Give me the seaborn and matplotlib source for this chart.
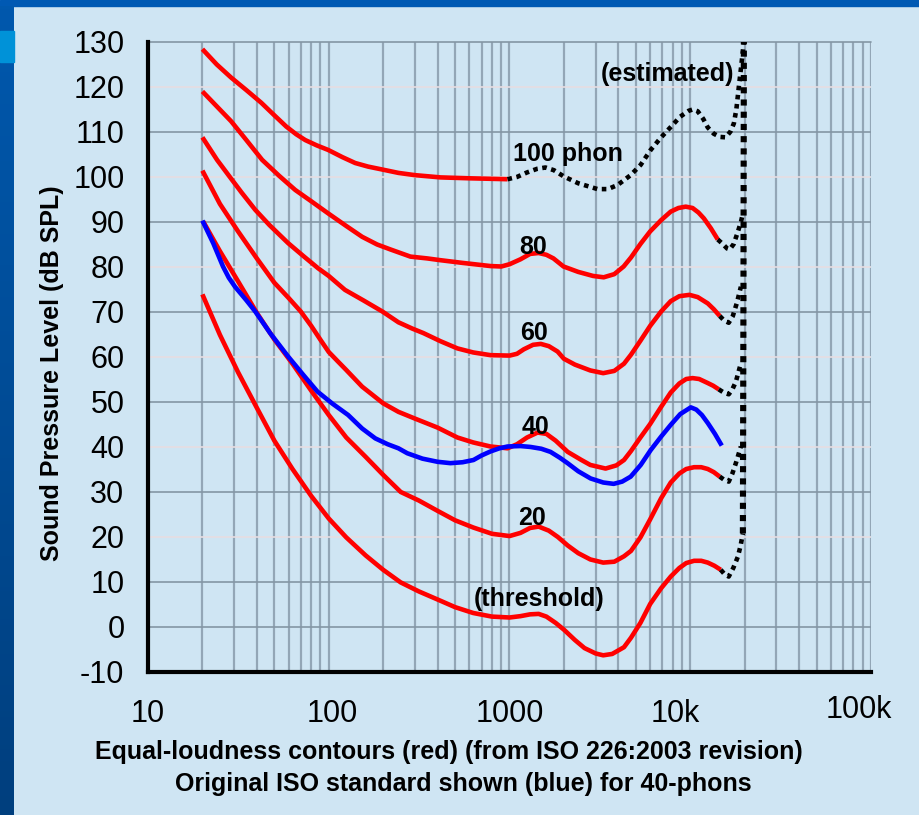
import numpy as np
import pandas as pd
import matplotlib
matplotlib.use("Agg")
import matplotlib.pyplot as plt
import matplotlib.transforms as mtransforms
from matplotlib.patches import Rectangle
from matplotlib.ticker import FixedLocator, LogLocator, NullFormatter
import seaborn as sns

# ---- data (Hz, dB SPL) ----
thr_f = [20, 25, 31.5, 40, 50, 63, 80, 100, 125, 160, 200, 250, 315, 400, 500, 630,
         800, 1000, 1150, 1300, 1450, 1600, 1800, 2000, 2300, 2600, 3000, 3300, 3700,
         4300, 4700, 5300, 6000, 6900, 7800, 8700, 9500, 10500, 11500, 12500, 13600, 14750]
thr_db = [73.8, 64.8, 56.5, 48.6, 41.3, 35.0, 29.0, 24.0, 19.8, 15.8, 12.6, 9.8, 7.8, 6.0, 4.3, 3.0,
          2.2, 2.0, 2.3, 2.7, 2.8, 2.2, 0.8, -0.7, -3.0, -4.8, -6.0, -6.4, -6.1,
          -4.6, -2.5, 0.8, 5.0, 8.5, 11.1, 13.0, 14.1, 14.6, 14.6, 14.2, 13.5, 12.6]

p20_f = [20.2, 25, 31.5, 40, 50, 63, 80, 100, 125, 160, 200, 250, 315, 400, 500, 630,
         800, 1000, 1150, 1300, 1450, 1650, 1850, 2100, 2400, 2800, 3300, 3800, 4300,
         4700, 5300, 6000, 6900, 7800, 8700, 9500, 10500, 11500, 12500, 13500, 14560]
p20_db = [90.0, 83.4, 76.7, 69.7, 63.8, 58.4, 52.4, 47.0, 42.0, 37.7, 33.7, 29.9, 28.0, 25.7, 23.6, 22.0,
          20.6, 20.1, 20.8, 21.9, 22.2, 21.3, 19.9, 18.0, 16.3, 14.9, 14.2, 14.4, 15.6,
          16.8, 19.8, 23.8, 28.5, 32.0, 34.0, 35.0, 35.4, 35.4, 35.0, 34.3, 33.3]

p40_f = [20, 25, 31.5, 40, 50, 60, 70, 80, 90, 100, 113, 125, 153, 200, 243, 300, 400,
         515, 630, 785, 975, 1100, 1250, 1430, 1600, 1800, 2100, 2500, 2800, 3400, 3900,
         4300, 4700, 5300, 6000, 6900, 7800, 8700, 9500, 10300, 11200, 12500, 13400, 14380]
p40_db = [101.3, 93.9, 87.8, 81.8, 76.4, 73.0, 70.0, 66.8, 63.7, 61.0, 58.8, 57.0, 53.3, 49.6, 47.7, 46.2, 44.2,
          42.0, 40.9, 40.0, 39.6, 40.5, 42.0, 43.1, 42.8, 41.3, 38.8, 37.0, 35.9, 35.1, 35.8,
          37.0, 39.0, 42.0, 45.0, 48.8, 52.0, 54.0, 55.0, 55.2, 55.0, 54.1, 53.5, 52.7]

p60_f = [20, 24.1, 28, 33, 39.2, 47, 59.6, 72, 87.4, 100, 123, 155, 198, 243, 290, 334,
         415, 515, 630, 785, 1000, 1100, 1200, 1350, 1490, 1650, 1845, 2000, 2300, 2800,
         3300, 3800, 4300, 4700, 5300, 6000, 6900, 7800, 8700, 9900, 11000, 12500, 13500, 14560]
p60_db = [108.7, 103.7, 100.2, 96.4, 92.6, 89.2, 85.2, 82.4, 79.6, 77.9, 74.8, 72.5, 70.0, 67.6, 66.2, 65.2,
          63.4, 61.8, 60.9, 60.3, 60.2, 60.6, 61.6, 62.6, 62.8, 62.3, 61.1, 59.5, 58.2, 56.9,
          56.3, 56.8, 58.4, 60.4, 63.5, 66.8, 70.0, 72.3, 73.4, 73.7, 73.2, 71.8, 70.5, 69.0]

p80_f = [20, 24, 28.8, 35, 42.8, 53, 65.3, 80, 99.3, 125, 153, 185, 219, 283, 350, 415,
         550, 785, 900, 1000, 1150, 1300, 1450, 1600, 1750, 1990, 2400, 2900, 3320, 3800,
         4280, 4700, 5300, 6000, 6900, 7800, 8600, 9440, 10300, 11100, 11890, 13000, 14200]
p80_db = [118.9, 115.6, 112.3, 108.1, 103.7, 100.2, 97.0, 94.5, 91.8, 89.0, 86.6, 84.9, 83.8, 82.2, 81.8, 81.4,
          80.8, 80.1, 80.0, 80.5, 81.6, 82.8, 83.0, 82.6, 81.8, 80.0, 78.8, 77.9, 77.6, 78.3,
          80.0, 82.0, 85.0, 87.8, 90.3, 92.2, 93.0, 93.3, 93.0, 92.0, 90.7, 88.5, 86.0]

p100_f = [20, 24, 28.8, 35, 42.3, 50, 58.2, 66, 74.1, 86, 99.3, 119, 140, 165, 195, 243,
          300, 415, 600, 975]
p100_db = [128.3, 124.9, 122.0, 119.2, 116.4, 113.6, 111.1, 109.4, 108.1, 106.9, 105.9, 104.3, 103.0, 102.2, 101.6, 100.8,
           100.3, 99.8, 99.6, 99.4]

# original ISO 40-phon contour (blue)
iso40_f = [20, 23, 26, 28, 30.3, 35, 39.2, 47.4, 59.6, 72, 86.6, 105, 128, 153, 181, 212,
           243, 272, 330, 400, 471, 550, 632, 700, 785, 880, 975, 1150, 1307, 1500, 1687,
           1900, 2095, 2400, 2810, 3300, 3770, 4200, 4681, 5320, 6040, 6900, 7795, 8800,
           10070, 10800, 11600, 12510, 13700, 14940]
iso40_db = [90.2, 85.1, 80.0, 77.5, 75.5, 72.5, 70.0, 65.2, 60.0, 56.0, 52.2, 49.5, 47.0, 44.0, 41.8, 40.5,
            39.6, 38.5, 37.3, 36.6, 36.3, 36.5, 37.0, 38.0, 38.9, 39.6, 40.0, 40.1, 39.9, 39.5, 38.8,
            37.5, 36.3, 34.5, 32.9, 32.0, 31.7, 32.2, 33.3, 35.9, 39.2, 42.2, 44.8, 47.2,
            48.7, 48.2, 47.0, 45.2, 42.8, 40.2]

# estimated (dotted) extensions
est100_f = [975, 1100, 1250, 1420, 1580, 1760, 2000, 2400, 3070, 3500, 3960, 4680, 5320,
            6040, 6900, 7800, 8800, 9800, 10330, 11000, 11800, 12500, 13500, 14600, 15700,
            16700, 17430, 18000, 18580, 19200, 19800]
est100_db = [99.4, 99.9, 100.9, 101.7, 102.0, 101.4, 100.0, 98.5, 97.2, 97.2, 98.1, 100.3, 102.6,
             105.9, 108.7, 111.0, 113.3, 114.6, 114.9, 114.5, 112.8, 110.9, 109.5, 108.8, 108.7,
             110.0, 111.8, 115.0, 120.0, 125.0, 130.0]
est80_f = [14200, 15130, 16000, 16540, 17400, 18340, 19100, 19550]
est80_db = [86.0, 85.0, 84.0, 83.8, 85.0, 87.7, 90.0, 91.8]
est60_f = [14560, 15400, 16330, 17200, 18110, 19060]
est60_db = [69.0, 68.0, 67.5, 69.0, 71.9, 75.5]
est40_f = [14380, 15300, 16330, 17100, 17880, 19060]
est40_db = [52.7, 52.0, 51.6, 52.7, 54.4, 58.5]
est20_f = [14560, 15400, 16330, 17100, 17880, 19060]
est20_db = [33.3, 32.6, 32.2, 34.0, 36.3, 40.0]
estthr_f = [14750, 15500, 16330, 17300, 18340, 19000, 19550]
estthr_db = [12.6, 11.6, 11.1, 13.0, 15.5, 18.0, 20.7]
# the near-vertical dotted rise at ~20 kHz
estvert_f = [19550, 19700, 19800]
estvert_db = [20.7, 75.0, 130.0]

x_ticks = [10, 100, 1000, 10000, 100000]
x_tick_labels = ["10", "100", "1000", "10k", "100k"]
y_ticks = list(range(-10, 131, 10))
dark_lines = [130, 110, 90, 70, 50, 30, 10, 0]
light_lines = [120, 100, 80, 60, 40, 20]

# ---- styling ----
sns.set_theme(style="white")
plt.rcParams["font.family"] = ["Liberation Sans", "DejaVu Sans"]
plt.rcParams["axes.unicode_minus"] = False
for key in ["text.color", "axes.labelcolor", "xtick.color", "ytick.color"]:
    plt.rcParams[key] = "black"

PANEL = "#cfe5f3"
RED = "#ff0000"
BLUE = "#0000ff"

fig = plt.figure(figsize=(9.2, 8.15), dpi=100, facecolor=PANEL)

# blue slide frame on top/left
fig.add_artist(Rectangle((0, 1 - 6 / 815), 1, 6 / 815, transform=fig.transFigure,
                         color="#0059b3", zorder=0))
gax = fig.add_axes([0, 0, 14 / 920, 1 - 6 / 815])
grad = np.linspace(0, 1, 256).reshape(-1, 1)
gax.imshow(grad, aspect="auto", cmap=matplotlib.colors.LinearSegmentedColormap.from_list(
    "fr", ["#0058ad", "#003f7e"]))
gax.set_axis_off()
fig.add_artist(Rectangle((0, 1 - 62 / 815), 14 / 920, 31 / 815, transform=fig.transFigure,
                         color="#0092d8", zorder=5))

ax = fig.add_axes([148 / 920, 1 - 671.5 / 815, (871 - 148) / 920, (671.5 - 41.5) / 815])
ax.set_facecolor(PANEL)
ax.set_xscale("log")


def draw(f, db, color, dotted=False, z=3, lw=3.3):
    df = pd.DataFrame({"freq": f, "db": db})
    ls = (0, (1, 1)) if dotted else "-"
    sns.lineplot(data=df, x="freq", y="db", ax=ax, color=color, linewidth=lw,
                 linestyle=ls, sort=False, estimator=None, legend=False, zorder=z,
                 solid_joinstyle="round", solid_capstyle="butt")


for f, db in [(thr_f, thr_db), (p20_f, p20_db), (p40_f, p40_db),
              (p60_f, p60_db), (p80_f, p80_db), (p100_f, p100_db)]:
    draw(f, db, RED)
draw(iso40_f, iso40_db, BLUE, z=4)
for f, db in [(est100_f, est100_db), (est80_f, est80_db), (est60_f, est60_db),
              (est40_f, est40_db), (est20_f, est20_db), (estthr_f, estthr_db)]:
    draw(f, db, "black", dotted=True, z=5)
draw(estvert_f, estvert_db, "black", dotted=True, z=5, lw=4.4)

ax.set_xlim(10, 100000)
ax.set_ylim(-10, 130)
ax.xaxis.set_major_locator(FixedLocator(x_ticks))
ax.set_xticklabels(x_tick_labels)
ax.xaxis.set_minor_locator(LogLocator(base=10, subs=np.arange(2, 10)))
ax.xaxis.set_minor_formatter(NullFormatter())
ax.set_yticks(y_ticks)
ax.set_axisbelow(True)
ax.grid(True, which="both", axis="x", color="#93a6b6", linewidth=1.6)
ax.grid(False, axis="y")
for v in dark_lines:
    ax.axhline(v, color="#8496a4", linewidth=1.2, zorder=1, clip_on=(v != 130))
for v in light_lines:
    ax.axhline(v, color="#e6dde2", linewidth=1.2, zorder=1)

for s in ["top", "right"]:
    ax.spines[s].set_visible(False)
for s in ["left", "bottom"]:
    ax.spines[s].set_color("black")
    ax.spines[s].set_linewidth(3)
    ax.spines[s].set_zorder(6)

ax.tick_params(axis="y", length=0, labelsize=22, pad=17, colors="black")
ax.tick_params(axis="x", which="both", length=0, labelsize=22, pad=20, colors="black")
ax.set_xlabel("")
ax.set_ylabel("")

# nudge the frequency labels like the original
shifts = {1: (4, 0), 3: (-15, 0), 4: (-12, 4)}
for i, tick in enumerate(ax.xaxis.get_major_ticks()):
    if i in shifts:
        dx, dy = shifts[i]
        off = mtransforms.ScaledTranslation(dx / 100, dy / 100, fig.dpi_scale_trans)
        tick.label1.set_transform(tick.label1.get_transform() + off)

kw = dict(ha="center", va="center", fontsize=18, fontweight="bold", color="black", zorder=7)
ax.text(2094, 105.0, "100 phon", **kw)
ax.text(1358, 84.3, "80", **kw)
ax.text(1358, 65.2, "60", **kw)
ax.text(1392, 44.3, "40", **kw)
ax.text(1340, 24.1, "20", **kw)
ax.text(1462, 6.1, "(threshold)", **kw)
ax.text(7500, 122.8, "(estimated)", **kw)

fig.text(52 / 920, 1 - 373 / 815, "Sound Pressure Level (dB SPL)", rotation=90,
         ha="center", va="center", fontsize=18, fontweight="bold", color="black")
fig.text(449 / 920, 1 - 752 / 815,
         "Equal-loudness contours (red) (from ISO 226:2003 revision)",
         ha="center", va="center", fontsize=18, fontweight="bold", color="black")
fig.text(463 / 920, 1 - 784 / 815,
         "Original ISO standard shown (blue) for 40-phons",
         ha="center", va="center", fontsize=18, fontweight="bold", color="black")

fig.savefig("out.png", dpi=100, facecolor=PANEL)
